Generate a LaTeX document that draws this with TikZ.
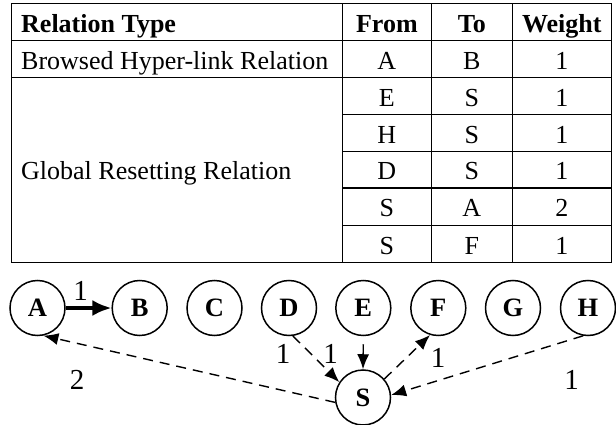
\documentclass[tikz,border=0pt]{standalone}
\usepackage{fontspec}
\setmainfont{Liberation Serif}
\usetikzlibrary{arrows.meta}
\begin{document}
\begin{tikzpicture}[x=1pt,y=-1pt,
  tbl/.style={line width=1pt},
  cell/.style={inner sep=0pt,text height=17.2pt,text depth=0pt,font=\fontsize{26}{28}\selectfont},
  hcell/.style={cell,font=\fontsize{26}{28}\selectfont\bfseries},
  vtx/.style={circle,draw,line width=1.5pt,minimum size=55pt,inner sep=0pt,
    text height=17.5pt,text depth=0pt,font=\fontsize{26.5}{28}\selectfont\bfseries},
  elab/.style={inner sep=0pt,text height=19.6pt,text depth=0pt,font=\fontsize{29}{31}\selectfont},
  dashedge/.style={line width=1.4pt,dash pattern=on 10pt off 7pt,-{Latex[length=15pt,width=12pt]}},
  solidedge/.style={line width=1.4pt,-{Latex[length=15pt,width=12pt]}},
  boldedge/.style={line width=3.5pt,-{Latex[length=19pt,width=16pt]}}
]
\useasboundingbox (0,0) rectangle (616,425);
% table
\draw[tbl] (11,4) rectangle (611,262);
\draw[tbl] (11,41) -- (611,41);
\draw[tbl] (11,78) -- (611,78);
\foreach \yy in {115,151.5,188,225} \draw[tbl] (342.7,\yy) -- (611,\yy);
\foreach \xx in {342.7,431,512.7} \draw[tbl] (\xx,4) -- (\xx,262);
% header
\node[hcell,anchor=west] (h1) at (21,24) {Relation Type};
\node[hcell] (h2) at (386.85,24) {From};
\node[hcell] (h3) at (471.85,24) {To};
\node[hcell] (h4) at (561.85,24) {Weight};
% row browsed
\node[cell,anchor=west] (r1) at (21,61) {Browsed Hyper-link Relation};
\node[cell] (r1a) at (386.85,61) {A};
\node[cell] (r1b) at (471.85,61) {B};
\node[cell] (r1c) at (561.85,61) {1};
% global
\node[cell,anchor=west] (r2) at (21,171) {Global Resetting Relation};
\node[cell] (e1) at (386.85,97.5) {E};
\node[cell] (e2) at (471.85,97.5) {S};
\node[cell] (e3) at (561.85,97.5) {1};
\node[cell] (f1) at (386.85,134.5) {H};
\node[cell] (f2) at (471.85,134.5) {S};
\node[cell] (f3) at (561.85,134.5) {1};
\node[cell] (g1) at (386.85,171) {D};
\node[cell] (g2) at (471.85,171) {S};
\node[cell] (g3) at (561.85,171) {1};
\node[cell] (k1) at (386.85,208) {S};
\node[cell] (k2) at (471.85,208) {A};
\node[cell] (k3) at (561.85,208) {2};
\node[cell] (m1) at (386.85,245.5) {S};
\node[cell] (m2) at (471.85,245.5) {F};
\node[cell] (m3) at (561.85,245.5) {1};
% graph
\node[vtx] (A) at (37.5,308) {A};
\node[vtx] (B) at (139.7,308) {B};
\node[vtx] (C) at (214.5,308) {C};
\node[vtx] (D) at (289,308) {D};
\node[vtx] (E) at (363.3,308) {E};
\node[vtx] (F) at (438.3,308) {F};
\node[vtx] (G) at (513,308) {G};
\node[vtx] (H) at (588,308) {H};
\node[vtx] (S) at (363,397.5) {S};
\draw[boldedge] (A.east) -- (B.west);
\draw[dashedge] (S.190) -- (A.-78);
\draw[dashedge] (D.-82) -- (S.147);
\draw[solidedge] ([yshift=-8pt]E.south) -- (S.north);
\draw[dashedge] (S.41) -- (F.-107);
\draw[dashedge] (H.-100) -- (S.5);
% labels
\node[elab] (lab) at (80.5,291) {1};
\node[elab] (lsa) at (77,379.5) {2};
\node[elab] (lds) at (283,353.5) {1};
\node[elab] (les) at (330.5,353.5) {1};
\node[elab] (lsf) at (438,358) {1};
\node[elab] (lhs) at (571.5,380) {1};
\end{tikzpicture}
\end{document}
